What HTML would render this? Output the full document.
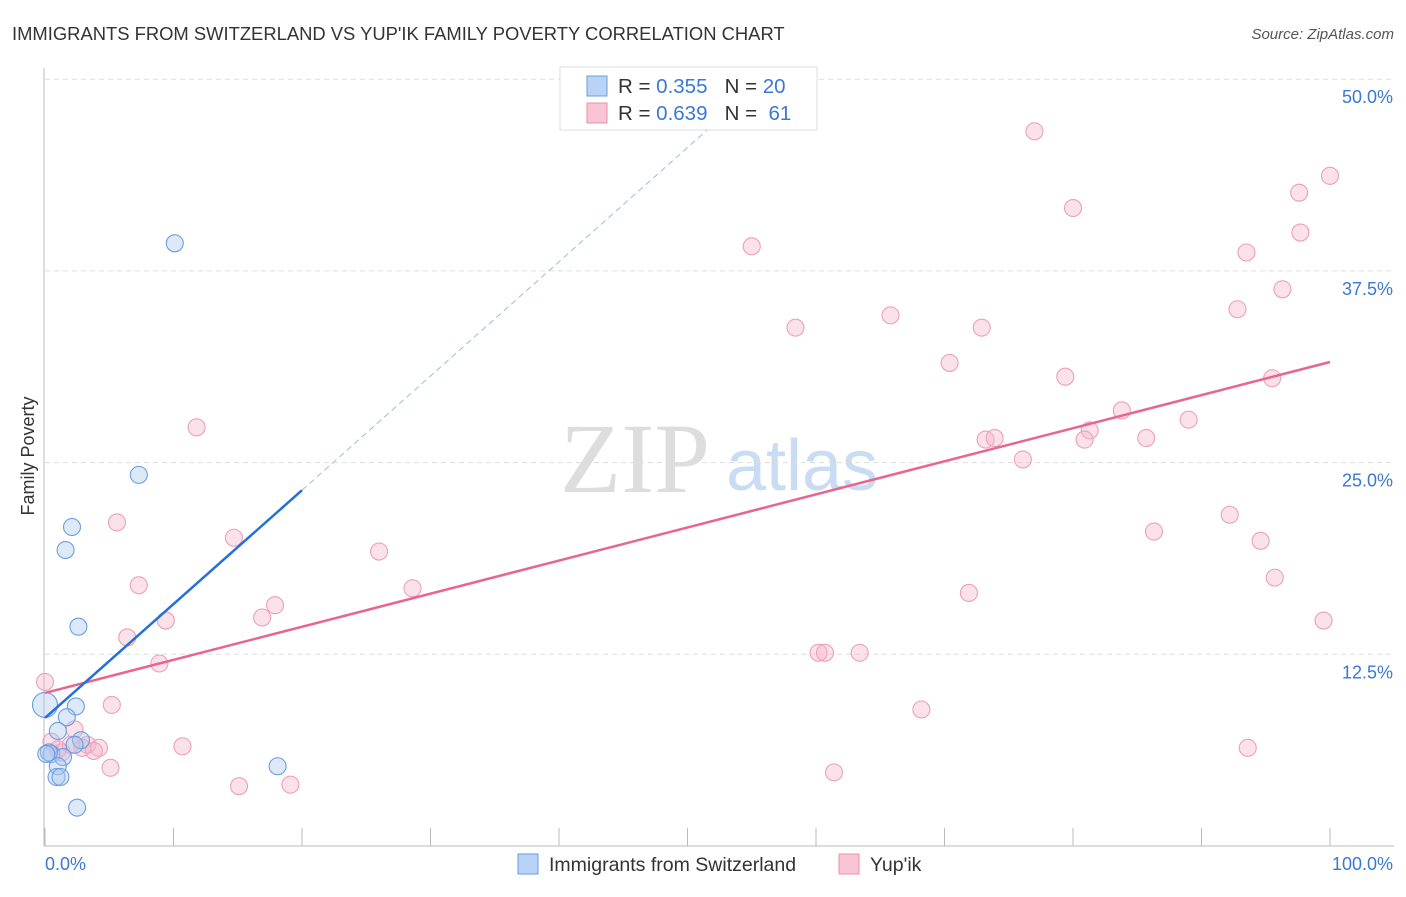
<!DOCTYPE html>
<html><head><meta charset="utf-8"><style>
body{margin:0;background:#fff;font-family:"Liberation Sans",sans-serif;}
</style></head><body>
<svg id="c" width="1406" height="892" font-family="Liberation Sans, sans-serif">
<text x="12" y="40" font-size="18.4" fill="#333">IMMIGRANTS FROM SWITZERLAND VS YUP'IK FAMILY POVERTY CORRELATION CHART</text>
<text x="1394" y="39" font-size="15" fill="#555" text-anchor="end" font-style="italic">Source: ZipAtlas.com</text>
<text transform="translate(34,456) rotate(-90)" font-size="18" fill="#333" text-anchor="middle">Family Poverty</text>
<g><text x="635" y="492" font-size="100" fill="#ddd" text-anchor="middle" style="font-family:'Liberation Serif',serif">ZIP</text><text x="802" y="490" font-size="72" fill="#c9dcf3" text-anchor="middle">atlas</text></g>
<g id="grid"></g><g id="marks"></g>
<g>
<rect x="560" y="67" width="257" height="63" fill="#fff" stroke="#ddd"/>
<rect x="587" y="76" width="20" height="20" fill="#b8d3f5" stroke="#6a9de0"/>
<rect x="587" y="103" width="20" height="20" fill="#f9c5d4" stroke="#e890aa"/>
<text x="618" y="93" font-size="20.5" fill="#333">R = <tspan fill="#3a78d4">0.355</tspan>&#160;&#160;&#160;N = <tspan fill="#3a78d4">20</tspan></text>
<text x="618" y="120" font-size="20.5" fill="#333">R = <tspan fill="#3a78d4">0.639</tspan>&#160;&#160;&#160;N = &#160;<tspan fill="#3a78d4">61</tspan></text>
</g>
<g>
<rect x="518" y="854" width="20" height="20" fill="#b8d3f5" stroke="#6a9de0"/>
<text x="549" y="871" font-size="19.5" fill="#333">Immigrants from Switzerland</text>
<rect x="839" y="854" width="20" height="20" fill="#f9c5d4" stroke="#e890aa"/>
<text x="870" y="871" font-size="19.5" fill="#333">Yup'ik</text>
</g>
</svg>
<script>
const yTicks=[12.5,25,37.5,50];
const yTickLabels=["12.5%","25.0%","37.5%","50.0%"];
const xTickLabels=["0.0%","100.0%"];
const pinkX=[77.0,80.0,100,97.6,97.7,93.5,55.0,96.3,92.8,58.4,65.8,72.9,70.4,79.4,95.5,83.8,89.0,11.8,81.3,80.9,85.7,73.2,73.9,76.1,5.6,92.2,86.3,94.6,14.7,26.0,95.7,7.3,28.6,71.9,17.9,16.9,9.4,99.5,6.4,8.9,60.2,60.7,63.4,0,68.2,5.2,2.3,0.5,3.3,4.2,2.9,10.7,93.6,5.1,61.4,15.1,19.1,1.3,3.8,2.0,1.0];
const pinkY=[46.6,41.6,43.7,42.6,40.0,38.7,39.1,36.3,35.0,33.8,34.6,33.8,31.5,30.6,30.5,28.4,27.8,27.3,27.1,26.5,26.6,26.5,26.6,25.2,21.1,21.6,20.5,19.9,20.1,19.2,17.5,17.0,16.8,16.5,15.7,14.9,14.7,14.7,13.6,11.9,12.6,12.6,12.6,10.7,8.9,9.2,7.6,6.8,6.6,6.4,6.4,6.5,6.4,5.1,4.8,3.9,4.0,6.1,6.2,6.6,6.3];
const blueX=[10.1,7.3,2.1,1.6,2.6,0,2.4,1.7,1.0,2.8,0.5,1.4,1.0,0.9,1.2,2.5,18.1,2.3,0.3,0.1];
const blueY=[39.3,24.2,20.8,19.3,14.3,9.2,9.1,8.4,7.5,6.9,6.0,5.8,5.2,4.5,4.5,2.5,5.2,6.6,6.1,6.0];
const blueSize=[9,9,9,9,9,13,9,9,9,9,9,9,9,9,9,9,9,9,9,9];
const blueLine=[[0,8.35],[20,23.2]];
const blueDash=[[20,23.2],[53.3,48.0]];
const pinkLine=[[0,9.98],[100,31.56]];
const X=v=>45+v*12.85, Y=v=>846-v*15.336;
const NS="http://www.w3.org/2000/svg";
const grid=document.getElementById('grid'), marks=document.getElementById('marks');
function mk(tag,at,parent){const e=document.createElementNS(NS,tag);for(const k in at)e.setAttribute(k,at[k]);parent.appendChild(e);return e;}
yTicks.forEach((t,i)=>{
 const l=mk('line',{x1:45,x2:1394,y1:Y(t),y2:Y(t),stroke:'#ddd','stroke-dasharray':'5,4'},grid);
 
 
 const tx=mk('text',{x:1393,y:Y(t)+24,'font-size':18,fill:'#3a78d4','text-anchor':'end'},grid);
 tx.textContent=yTickLabels[i];
 
 
});
const ax=mk('line',{x1:44,x2:44,y1:68,y2:846,stroke:'#bbb'},grid);


const axx=mk('line',{x1:44,x2:1394,y1:846,y2:846,stroke:'#bbb'},grid);


for(let i=0;i<=10;i++){const t=mk('line',{x1:X(i*10),x2:X(i*10),y1:828,y2:846,stroke:'#bbb'},grid);
 
 }
const xl0=mk('text',{x:45,y:870,'font-size':18,fill:'#3a78d4'},grid);xl0.textContent=xTickLabels[0];


const xl1=mk('text',{x:1393,y:870,'font-size':18,fill:'#3a78d4','text-anchor':'end'},grid);xl1.textContent=xTickLabels[1];


pinkX.forEach((v,i)=>{const c=mk('circle',{cx:X(v),cy:Y(pinkY[i]),r:8.5,fill:'rgba(246,180,200,0.4)',stroke:'#eda0b8','stroke-width':1.1},marks);
 
 });
blueX.forEach((v,i)=>{const c=mk('circle',{cx:X(v),cy:Y(blueY[i]),r:blueSize[i]-0.5,fill:'rgba(170,200,240,0.4)',stroke:'#6b9de0','stroke-width':1.1},marks);
 
 });
const pl=mk('line',{x1:X(pinkLine[0][0]),y1:Y(pinkLine[0][1]),x2:X(pinkLine[1][0]),y2:Y(pinkLine[1][1]),stroke:'#e8658f','stroke-width':2.5},marks);


const bl=mk('line',{x1:X(blueLine[0][0]),y1:Y(blueLine[0][1]),x2:X(blueLine[1][0]),y2:Y(blueLine[1][1]),stroke:'#2470d8','stroke-width':2.5},marks);


const bd=mk('line',{x1:X(blueDash[0][0]),y1:Y(blueDash[0][1]),x2:X(blueDash[1][0]),y2:Y(blueDash[1][1]),stroke:'#9bbbe6','stroke-width':1,'stroke-dasharray':'6,4'},marks);


</script>
</body></html>
